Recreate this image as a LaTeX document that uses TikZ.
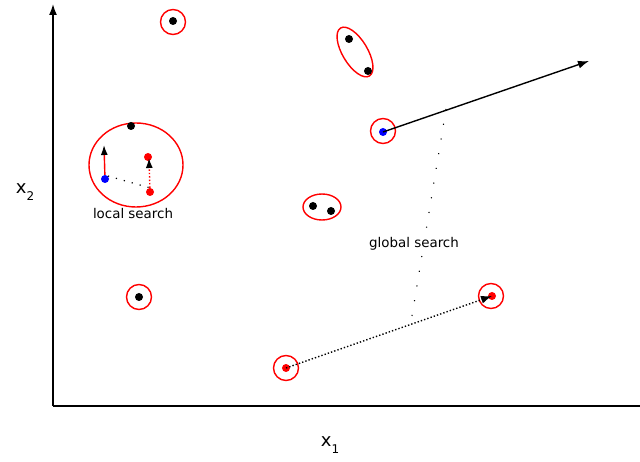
\documentclass[tikz,border=0pt]{standalone}
\usepackage{fontspec}
\setmainfont{DejaVu Sans}
\usetikzlibrary{arrows.meta}
\begin{document}
\begin{tikzpicture}[x=1pt,y=-1pt,
  ring/.style={draw=red, line width=1.4pt},
  bdot/.style={circle, fill=black, inner sep=0pt, minimum size=8pt},
  rdot/.style={circle, fill=red, inner sep=0pt, minimum size=8pt},
  bludot/.style={circle, fill=blue, inner sep=0pt, minimum size=8pt},
  axis/.style={line width=1.6pt},
  tip/.style={-{Latex[length=11pt,width=8pt]}},
  lbl/.style={font=\fontsize{13.4}{16}\selectfont, inner sep=1pt},
  axlbl/.style={font=\fontsize{18}{20}\selectfont, inner sep=0pt}]
\useasboundingbox (0,0) rectangle (640,462);
% axes
\coordinate (o) at (53,406);
\coordinate (ytop) at (53,4);
\coordinate (xend) at (640,406);
\draw[axis, tip] (o) -- (ytop);
\draw[axis] (o) -- (xend);
\node[axlbl] (xtwo) at (25,192) {x\raisebox{-0.4em}{\fontsize{12}{12}\selectfont 2}};
\node[axlbl] (xone) at (330,445) {x\raisebox{-0.4em}{\fontsize{12}{12}\selectfont 1}};
% isolated circles
\draw[ring] (173,22) circle (12.5);
\node[bdot] (d1) at (173,21) {};
\draw[ring] (139,297) circle (12.5);
\node[bdot] (d2) at (139,297) {};
% rotated ellipse
\draw[ring, rotate around={-59:(355,52)}] (355,52) ellipse (28 and 12.5);
\node[bdot] (d3) at (349,39) {};
\node[bdot] (d4) at (368,71) {};
% two-dot ellipse
\draw[ring] (322,207) ellipse (19 and 13);
\node[bdot] (d5) at (313,206) {};
\node[bdot] (d6) at (331,211) {};
% local search
\draw[ring] (136,165) ellipse (47 and 42);
\node[bdot] (d7) at (131,126) {};
\node[bludot] (lb) at (105,179) {};
\node[rdot] (lr1) at (148,157) {};
\node[rdot] (lr2) at (150,192) {};
\coordinate (la) at (104,145);
\coordinate (lra) at (149,158);
\draw[red, line width=1.4pt, -{Latex[length=10pt,width=7pt,color=black]}] (lb) -- (la);
\draw[red, line width=1.4pt, dotted, -{Latex[length=10pt,width=7pt,color=black]}] (lr2) -- (lra);
\draw[line width=1.2pt, dash pattern=on 1.2pt off 7pt] (lb.north east) -- (lr2.north);
\node[lbl] (local) at (133,214) {local search};
% global search
\draw[ring] (383,131) circle (12.5);
\node[bludot] (gb) at (383,132) {};
\coordinate (gtip) at (589,61);
\draw[line width=1.4pt, tip] (gb.center) -- (gtip);
\draw[ring] (286,368) circle (12.5);
\node[rdot] (gr1) at (286,368) {};
\draw[ring] (491,296) circle (12.5);
\node[rdot] (gr2) at (492,296) {};
\draw[line width=1.4pt, dotted, -{Latex[length=11pt,width=8pt]}] (gr1.center) -- (gr2.center);
\coordinate (gs1) at (446,109);
\coordinate (gs2) at (411,322);
\draw[line width=1.1pt, dash pattern=on 1.1pt off 13.8pt] (gs1) -- (gs2);
\node[lbl, fill=white] (global) at (414,244) {global search};
\end{tikzpicture}
\end{document}
